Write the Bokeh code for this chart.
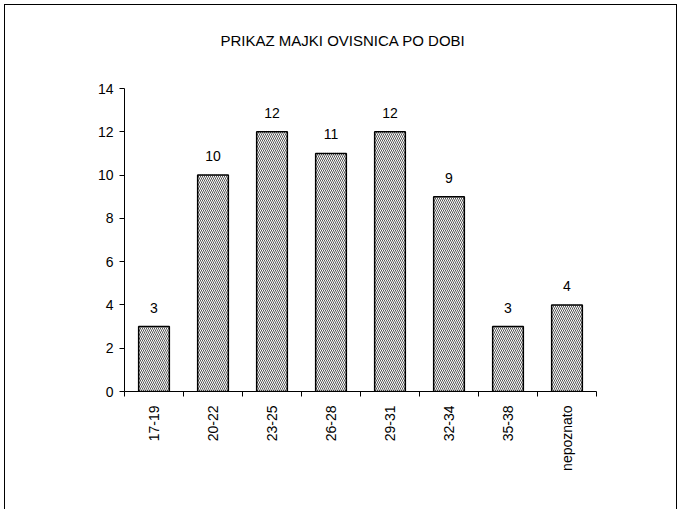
from bokeh.plotting import figure
from bokeh.models import ColumnDataSource, FixedTicker, LabelSet, Range1d
from bokeh.core.properties import value
from bokeh.embed import file_html
from bokeh.resources import INLINE
import math

title_text = "PRIKAZ MAJKI OVISNICA PO DOBI"
categories = ["17-19", "20-22", "23-25", "26-28", "29-31", "32-34", "35-38", "nepoznato"]
counts = [3, 10, 12, 11, 12, 9, 3, 4]
y_ticks = [0, 2, 4, 6, 8, 10, 12, 14]

n = len(categories)
centers = [i + 0.5 for i in range(n)]
bounds = list(range(n + 1))

src = ColumnDataSource(dict(x=centers, top=counts, lab=[str(c) for c in counts]))

FONT = "Liberation Sans"

p = figure(width=673, height=505, output_backend="svg", toolbar_location=None,
           x_range=Range1d(0, n), y_range=Range1d(0, 14),
           min_border_left=119, min_border_right=82, min_border_top=83, min_border_bottom=119)
# trailing empty line lifts the title higher above the plot area
p.title.text = title_text + "\n"
p.title.align = "left"
p.title.offset = 96
p.title.text_font = FONT
p.title.text_font_size = "15px"
p.title.text_font_style = "normal"
p.title.text_color = "black"
p.title.standoff = 46
p.outline_line_color = None
p.xgrid.visible = False
p.ygrid.visible = False
p.background_fill_color = "white"
p.border_fill_color = "white"
p.styles = {"border-top": "1px solid black", "border-left": "1px solid black",
            "border-right": "1px solid black", "margin-left": "4px", "margin-top": "4px"}

p.vbar(x="x", top="top", width=0.52, source=src, fill_color="white",
       line_color="black", line_width=1.5,
       hatch_pattern="left_diagonal_line", hatch_scale=4, hatch_weight=1,
       hatch_color="#555555")

labels = LabelSet(x="x", y="top", text="lab", source=src, text_align="center",
                  text_baseline="bottom", y_offset=14, text_font=value(FONT),
                  text_font_size=value("14px"), text_color="black")
p.add_layout(labels)

xa = p.xaxis[0]
xa.ticker = FixedTicker(ticks=centers, minor_ticks=bounds)
xa.major_label_overrides = {c: lab for c, lab in zip(centers, categories)}
xa.major_label_orientation = math.pi / 2
xa.major_tick_out = 0
xa.major_tick_in = 0
xa.minor_tick_out = 5
xa.minor_tick_in = 0
xa.axis_line_color = "black"
xa.minor_tick_line_color = "black"
xa.major_label_text_font = FONT
xa.major_label_text_font_size = "14px"
xa.major_label_text_color = "black"
xa.major_label_standoff = 9

ya = p.yaxis[0]
ya.ticker = FixedTicker(ticks=y_ticks)
ya.major_tick_out = 5
ya.major_tick_in = 0
ya.minor_tick_line_color = None
ya.axis_line_color = "black"
ya.major_tick_line_color = "black"
ya.major_label_text_font = FONT
ya.major_label_text_font_size = "14px"
ya.major_label_text_color = "black"
ya.major_label_standoff = 6

open("out.html", "w").write(file_html(p, INLINE))
